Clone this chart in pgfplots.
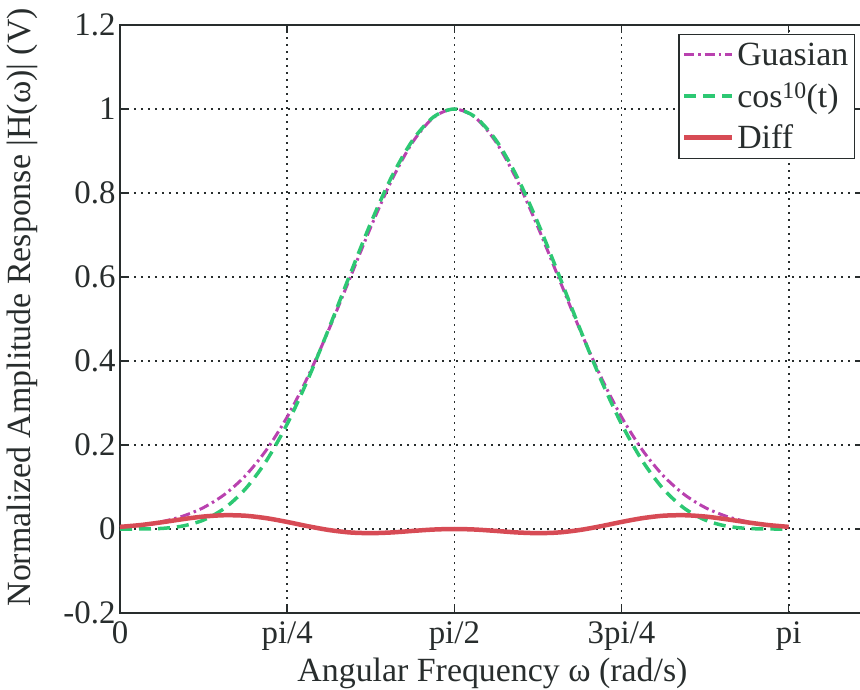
\documentclass[border=0pt]{standalone}
\usepackage{fontspec}
\setmainfont{Liberation Serif}
\newfontfamily\tnr{Liberation Serif}
\usepackage{pgfplots}
\usepackage{pgfplotstable}
\pgfplotsset{compat=1.18}
\definecolor{txt}{RGB}{40,45,45}
\definecolor{gmag}{RGB}{185,65,175}
\definecolor{cgrn}{RGB}{45,200,115}
\definecolor{dred}{RGB}{215,75,85}
\pgfplotstableread{
x G C D
0.0000 0.0051 0.0000 0.0051
0.0982 0.0096 0.0001 0.0095
0.1963 0.0175 0.0014 0.0160
0.2945 0.0305 0.0071 0.0234
0.3927 0.0511 0.0214 0.0297
0.4909 0.0822 0.0494 0.0328
0.5890 0.1268 0.0953 0.0316
0.6872 0.1878 0.1620 0.0258
0.7854 0.2668 0.2500 0.0168
0.8836 0.3636 0.3571 0.0065
0.9817 0.4755 0.4780 -0.0024
1.0799 0.5968 0.6050 -0.0082
1.1781 0.7187 0.7286 -0.0099
1.2763 0.8304 0.8386 -0.0082
1.3744 0.9207 0.9253 -0.0046
1.4726 0.9796 0.9809 -0.0013
1.5708 1.0000 1.0000 0.0000
1.6690 0.9796 0.9809 -0.0013
1.7671 0.9207 0.9253 -0.0046
1.8653 0.8304 0.8386 -0.0082
1.9635 0.7187 0.7286 -0.0099
2.0617 0.5968 0.6050 -0.0082
2.1598 0.4755 0.4780 -0.0024
2.2580 0.3636 0.3571 0.0065
2.3562 0.2668 0.2500 0.0168
2.4544 0.1878 0.1620 0.0258
2.5525 0.1268 0.0953 0.0316
2.6507 0.0822 0.0494 0.0328
2.7489 0.0511 0.0214 0.0297
2.8471 0.0305 0.0071 0.0234
2.9452 0.0175 0.0014 0.0160
3.0434 0.0096 0.0001 0.0095
3.1416 0.0051 0.0000 0.0051
}\data
\begin{document}
\tnr
\begin{tikzpicture}
\begin{axis}[
  name=ax,
  scale only axis,
  width=745bp, height=588bp,
  xmin=0, xmax=3.5, ymin=-0.2, ymax=1.2,
  xtick={0,0.785398,1.570796,2.356194,3.141593},
  xticklabels={0,pi/4,pi/2,3pi/4,pi},
  ytick={-0.2,0,0.2,0.4,0.6,0.8,1,1.2},
  yticklabels={-0.2,0,0.2,0.4,0.6,0.8,1,1.2},
  tick align=inside,
  major tick length=8bp,
  tick style={line width=1.5bp, color=txt},
  axis line style={line width=2bp, color=txt},
  grid=major,
  major grid style={line width=1.6bp, color=txt, dash pattern=on 1.6bp off 5.4bp},
  ticklabel style={font=\tnr\fontsize{33}{38}\selectfont, color=txt},
  xticklabel style={yshift=-5bp},
  yticklabel style={xshift=-1bp},
  xlabel={Angular Frequency ω (rad/s)},
  ylabel={Normalized Amplitude Response |H(ω)| (V)},
  label style={font=\tnr\fontsize{34}{40}\selectfont, color=txt},
  xlabel style={at={(axis description cs:0.5,0)}, anchor=base, yshift=-68bp},
  ylabel style={at={(axis description cs:-0.1315,0.52)}, anchor=center},
  legend style={at={(rel axis cs:0.9866,0.9847)}, anchor=north east,
    draw=txt, line width=1.5bp, fill=white,
    font=\tnr\fontsize{34}{40}\selectfont, text=txt,
    inner xsep=3bp, inner ysep=5bp, row sep=10bp,
    nodes={inner sep=3bp}},
  legend cell align=left,
  legend image code/.code={\draw[#1] (0bp,0bp) -- (48bp,0bp);},
]
\addplot[gmag, line width=3bp, dash pattern=on 10bp off 4bp on 2.5bp off 4bp, smooth] table[x=x,y=G] {\data};
\addlegendentry{Guasian}
\addplot[cgrn, line width=3.5bp, dash pattern=on 12bp off 7bp, smooth] table[x=x,y=C] {\data};
\addlegendentry{cos\textsuperscript{10}(t)}
\addplot[dred, line width=4.5bp, smooth] table[x=x,y=D] {\data};
\addlegendentry{Diff}
\end{axis}
\pgfresetboundingbox
\path[use as bounding box] ([xshift=-120bp,yshift=-77bp]ax.south west) rectangle ([xshift=740bp,yshift=25bp]ax.north west);
\end{tikzpicture}
\end{document}
